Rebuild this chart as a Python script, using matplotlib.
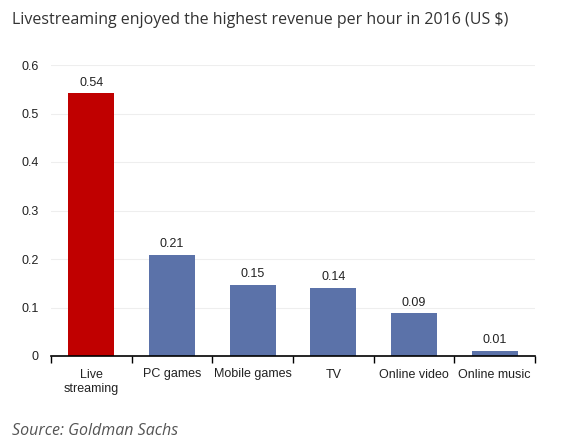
import matplotlib
matplotlib.use("Agg")
import matplotlib.pyplot as plt

categories = ["Live\nstreaming", "PC games", "Mobile games", "TV", "Online video", "Online music"]
values = [0.542, 0.209, 0.147, 0.141, 0.088, 0.011]
labels = ["0.54", "0.21", "0.15", "0.14", "0.09", "0.01"]
colors = ["#C00000", "#5B72A9", "#5B72A9", "#5B72A9", "#5B72A9", "#5B72A9"]
yticks = [0, 0.1, 0.2, 0.3, 0.4, 0.5, 0.6]
yticklabels = ["0", "0.1", "0.2", "0.3", "0.4", "0.5", "0.6"]

W, H = 568, 443
fig = plt.figure(figsize=(W / 100, H / 100), dpi=100)
fig.patch.set_facecolor("white")
ax = fig.add_axes([51 / W, 1 - 356 / H, (535 - 51) / W, (356 - 65) / H])

x = list(range(len(categories)))
ax.bar(x, values, width=0.57, color=colors, zorder=3)
for xi, v, lab in zip(x, values, labels):
    ax.text(xi, v + 0.009, lab, ha="center", va="bottom", fontsize=9,
            family="Liberation Sans", color="#222222")

ax.set_xlim(-0.5, len(categories) - 0.5)
ax.set_ylim(0, 0.6)
ax.set_yticks(yticks)
ax.set_yticklabels(yticklabels, family="Liberation Sans", fontsize=9, color="#222222")
ax.yaxis.grid(True, color="#EEEEEE", linewidth=0.8, zorder=0)
ax.tick_params(axis="y", length=0, pad=9)

ax.set_xticks(x)
ax.set_xticklabels(categories, family="Liberation Sans", fontsize=9, color="#222222",
                   linespacing=1.3)
ax.tick_params(axis="x", length=0, pad=9)
ax.set_xticks([i - 0.5 for i in range(len(categories) + 1)], minor=True)
ax.tick_params(axis="x", which="minor", length=5, width=1, color="black", direction="out")

for s in ["top", "right", "left"]:
    ax.spines[s].set_visible(False)
ax.spines["bottom"].set_color("black")
ax.spines["bottom"].set_linewidth(1.2)
ax.spines["bottom"].set_zorder(4)

fig.text(12 / W, 1 - 20 / H, "Livestreaming enjoyed the highest revenue per hour in 2016 (US $)",
         family="Open Sans", fontsize=11.5, color="#333333", ha="left", va="center")
fig.text(12 / W, 1 - 431 / H, "Source: Goldman Sachs", family="Open Sans", style="italic",
         fontsize=11.5, color="#555555", ha="left", va="center")

fig.savefig("out.png", dpi=100, facecolor="white")
